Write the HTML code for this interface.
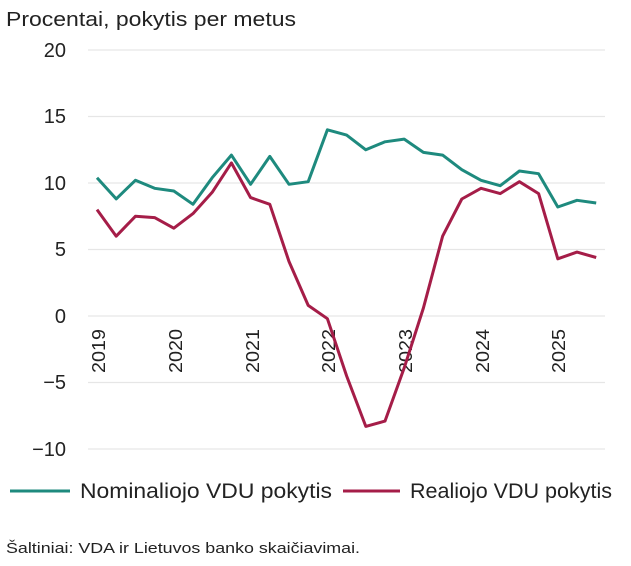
<!DOCTYPE html>
<html><head><meta charset="utf-8"><style>
body{margin:0;background:#fff;}
svg{display:block;font-family:"Liberation Sans",sans-serif;}
</style></head><body>
<svg width="631" height="566" viewBox="0 0 631 566">
<text x="6" y="26" font-size="20" fill="#222" textLength="290" lengthAdjust="spacingAndGlyphs">Procentai, pokytis per metus</text>
<g stroke="#e6e6e6" stroke-width="1.2">
<line x1="88" x2="605" y1="50" y2="50"/><line x1="88" x2="605" y1="116.5" y2="116.5"/>
<line x1="88" x2="605" y1="183" y2="183"/><line x1="88" x2="605" y1="249.5" y2="249.5"/>
<line x1="88" x2="605" y1="316" y2="316"/><line x1="88" x2="605" y1="382.5" y2="382.5"/>
<line x1="88" x2="605" y1="449" y2="449"/>
</g>
<g font-size="20" fill="#222" text-anchor="end">
<text x="66" y="57">20</text><text x="66" y="123">15</text><text x="66" y="190">10</text>
<text x="66" y="256">5</text><text x="66" y="323">0</text><text x="66" y="389">−5</text><text x="66" y="456">−10</text>
</g>
<g font-size="18" fill="#222">
<text transform="translate(105,373) rotate(-90)" textLength="44" lengthAdjust="spacingAndGlyphs">2019</text>
<text transform="translate(182,373) rotate(-90)" textLength="44" lengthAdjust="spacingAndGlyphs">2020</text>
<text transform="translate(259,373) rotate(-90)" textLength="44" lengthAdjust="spacingAndGlyphs">2021</text>
<text transform="translate(335,373) rotate(-90)" textLength="44" lengthAdjust="spacingAndGlyphs">2022</text>
<text transform="translate(412,373) rotate(-90)" textLength="44" lengthAdjust="spacingAndGlyphs">2023</text>
<text transform="translate(489,373) rotate(-90)" textLength="44" lengthAdjust="spacingAndGlyphs">2024</text>
<text transform="translate(565,373) rotate(-90)" textLength="44" lengthAdjust="spacingAndGlyphs">2025</text>
</g>
<polyline fill="none" stroke="#1e8a7e" stroke-width="3" stroke-linejoin="round" points="97,177.7 116.2,198.9 135.4,180.3 154.6,188.3 173.8,191 193,204.3 212.2,177.7 231.4,155.1 250.6,184.3 269.8,156.4 289,184.3 308.2,181.7 327.4,129.8 346.6,135.1 365.8,149.8 385,141.8 404.2,139.1 423.4,152.4 442.6,155.1 461.8,169.7 481,180.3 500.2,185.7 519.4,171 538.6,173.7 557.8,207 577,200.3 596.2,203"/>
<polyline fill="none" stroke="#a51d48" stroke-width="3" stroke-linejoin="round" points="97,209.6 116.2,236.2 135.4,216.3 154.6,217.6 173.8,228.2 193,213.6 212.2,192.3 231.4,162.9 250.6,197.6 269.8,204.3 289,261.5 308.2,305.4 327.4,318.7 346.6,375.9 365.8,426.4 385,421.1 404.2,367.9 423.4,308 442.6,236.2 461.8,199 481,188.3 500.2,193.6 519.4,181.7 538.6,193.6 557.8,258.8 577,252.1 596.2,257.5"/>
<line x1="10" x2="70" y1="491" y2="491" stroke="#1e8a7e" stroke-width="3"/>
<text x="80" y="498" font-size="21" fill="#222" textLength="252" lengthAdjust="spacingAndGlyphs">Nominaliojo VDU pokytis</text>
<line x1="343" x2="400" y1="491" y2="491" stroke="#a51d48" stroke-width="3"/>
<text x="410" y="498" font-size="21" fill="#222" textLength="202" lengthAdjust="spacingAndGlyphs">Realiojo VDU pokytis</text>
<text x="6" y="553" font-size="15" fill="#222" textLength="354" lengthAdjust="spacingAndGlyphs">Šaltiniai: VDA ir Lietuvos banko skaičiavimai.</text>
</svg>
</body></html>
